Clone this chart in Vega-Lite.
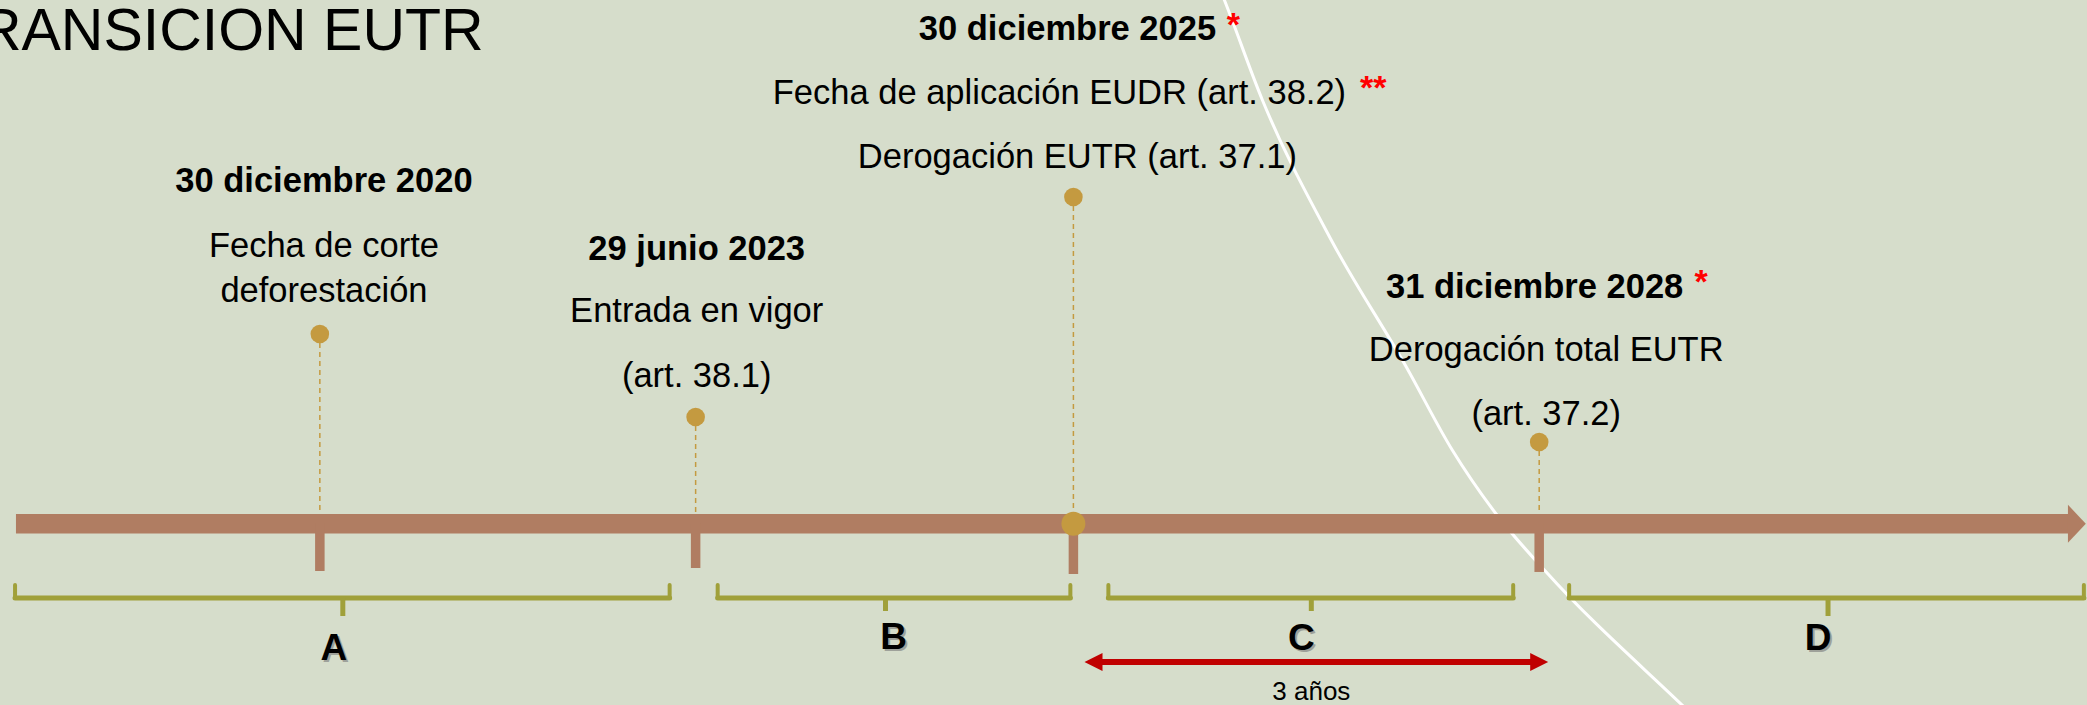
{
  "$schema": "https://vega.github.io/schema/vega-lite/v6.json",
  "width": 2087,
  "height": 705,
  "padding": 0,
  "autosize": {"type": "fit", "contains": "padding"},
  "background": "#D6DDCB",
  "config": {"view": {"stroke": null}},
  "datasets": {
    "curve": [
      {"x": 2026.905, "h": 102.84}, {"x": 2026.958, "h": 100}, {"x": 2027.208, "h": 85.82},
      {"x": 2027.661, "h": 65.96}, {"x": 2028.155, "h": 47.94}, {"x": 2028.457, "h": 36.17},
      {"x": 2028.746, "h": 27.09}, {"x": 2029.075, "h": 18.87}, {"x": 2029.969, "h": 0},
      {"x": 2030.107, "h": -2.84}
    ],
    "bar": [{"x": 2019.009, "x2": 2032.513, "h": 25.71}],
    "arrowhead": [{"x": 2032.566, "h": 25.71}],
    "events": [
      {"x": 2021.008, "h": 52.62, "base": 25.71, "tick": 19.01},
      {"x": 2023.48, "h": 40.85, "base": 25.71, "tick": 19.43},
      {"x": 2025.965, "h": 72.06, "base": 25.71, "tick": 18.58},
      {"x": 2029.029, "h": 37.3, "base": 25.71, "tick": 18.87}
    ],
    "bigdot": [{"x": 2025.965, "h": 25.71}],
    "brackets": [
      {"x": 2019.003, "x2": 2023.309, "mid": 2021.159, "h": 15.18, "top": 17.02, "tip": 12.62},
      {"x": 2023.625, "x2": 2025.945, "mid": 2024.729, "h": 15.18, "top": 17.02, "tip": 13.33},
      {"x": 2026.195, "x2": 2028.858, "mid": 2027.53, "h": 15.18, "top": 17.02, "tip": 13.33},
      {"x": 2029.226, "x2": 2032.612, "mid": 2030.929, "h": 15.18, "top": 17.02, "tip": 12.62}
    ],
    "labels": [
      {"x": 2021.1, "h": 6.38, "text": "A"},
      {"x": 2024.782, "h": 7.94, "text": "B"},
      {"x": 2027.464, "h": 7.8, "text": "C"},
      {"x": 2030.863, "h": 7.8, "text": "D"}
    ],
    "heads": [
      {"x": 2021.035, "h": 72.77, "text": "30 diciembre 2020"},
      {"x": 2023.487, "h": 63.12, "text": "29 junio 2023"},
      {"x": 2025.926, "h": 94.33, "text": "30 diciembre 2025"},
      {"x": 2028.999, "h": 57.73, "text": "31 diciembre 2028"}
    ],
    "bodies": [
      {"x": 2021.035, "h": 63.55, "text": "Fecha de corte"},
      {"x": 2021.035, "h": 57.16, "text": "deforestación"},
      {"x": 2023.487, "h": 54.33, "text": "Entrada en vigor"},
      {"x": 2023.487, "h": 45.11, "text": "(art. 38.1)"},
      {"x": 2025.873, "h": 85.25, "text": "Fecha de aplicación EUDR (art. 38.2)"},
      {"x": 2025.991, "h": 76.17, "text": "Derogación EUTR (art. 37.1)"},
      {"x": 2029.075, "h": 48.79, "text": "Derogación total EUTR"},
      {"x": 2029.075, "h": 39.72, "text": "(art. 37.2)"}
    ],
    "stars": [
      {"x": 2027.017, "h": 94.93, "text": "*"},
      {"x": 2027.938, "h": 85.95, "text": "**"},
      {"x": 2030.094, "h": 58.43, "text": "*"}
    ],
    "span": [{"x": 2026.097, "x2": 2029.029, "h": 6.1}],
    "spanlabel": [{"x": 2027.53, "h": 0.71, "text": "3 años"}],
    "title": [{"x": 2022.086, "h": 92.91, "text": "TRANSICION EUTR"}]
  },
  "encoding": {
    "x": {"field": "x", "type": "quantitative", "scale": {"domain": [2018.904, 2032.626], "nice": false, "zero": false}, "axis": null},
    "y": {"field": "h", "type": "quantitative", "scale": {"domain": [0, 100], "nice": false, "zero": false}, "axis": null}
  },
  "layer": [
    {"data": {"name": "curve"}, "mark": {"type": "line", "color": "#FFFFFF", "strokeWidth": 3, "interpolate": "monotone", "clip": true}},
    {"data": {"name": "events"}, "mark": {"type": "rule", "color": "#C49A40", "strokeWidth": 1.5, "strokeDash": [5, 4]}, "encoding": {"y2": {"field": "base"}}},
    {"data": {"name": "bar"}, "mark": {"type": "rule", "color": "#B07D62", "strokeWidth": 19.5, "strokeCap": "butt"}, "encoding": {"x2": {"field": "x2"}}},
    {"data": {"name": "arrowhead"}, "mark": {"type": "point", "shape": "M -0.47 -1 L 0.47 0 L -0.47 1 Z", "size": 1444, "filled": true, "color": "#B07D62", "opacity": 1}},
    {"data": {"name": "events"}, "mark": {"type": "rule", "color": "#B07D62", "strokeWidth": 9.5, "strokeCap": "butt"}, "encoding": {"y": {"field": "base", "type": "quantitative", "scale": {"domain": [0, 100], "nice": false, "zero": false}, "axis": null}, "y2": {"field": "tick"}}},
    {"data": {"name": "bigdot"}, "mark": {"type": "point", "shape": "circle", "size": 573, "filled": true, "color": "#C49A40", "opacity": 1}},
    {"data": {"name": "events"}, "mark": {"type": "point", "shape": "circle", "size": 346, "filled": true, "color": "#C49A40", "opacity": 1}},
    {"data": {"name": "brackets"}, "mark": {"type": "rule", "color": "#A0A03A", "strokeWidth": 5, "strokeCap": "round"}, "encoding": {"x2": {"field": "x2"}}},
    {"data": {"name": "brackets"}, "mark": {"type": "rule", "color": "#A0A03A", "strokeWidth": 4, "strokeCap": "round"}, "encoding": {"y2": {"field": "top"}}},
    {"data": {"name": "brackets"}, "mark": {"type": "rule", "color": "#A0A03A", "strokeWidth": 4, "strokeCap": "round"}, "encoding": {"x": {"field": "x2", "type": "quantitative", "scale": {"domain": [2018.904, 2032.626], "nice": false, "zero": false}, "axis": null}, "y2": {"field": "top"}}},
    {"data": {"name": "brackets"}, "mark": {"type": "rule", "color": "#A0A03A", "strokeWidth": 5, "strokeCap": "butt"}, "encoding": {"x": {"field": "mid", "type": "quantitative", "scale": {"domain": [2018.904, 2032.626], "nice": false, "zero": false}, "axis": null}, "y2": {"field": "tip"}}},
    {"data": {"name": "labels"}, "mark": {"type": "text", "font": "Liberation Sans", "fontWeight": "bold", "fontSize": 37, "align": "center", "baseline": "alphabetic", "color": "#7A7A7A", "opacity": 0.6, "dx": 2, "dy": 2}, "encoding": {"text": {"field": "text"}}},
    {"data": {"name": "labels"}, "mark": {"type": "text", "font": "Liberation Sans", "fontWeight": "bold", "fontSize": 37, "align": "center", "baseline": "alphabetic", "color": "#000000"}, "encoding": {"text": {"field": "text"}}},
    {"data": {"name": "heads"}, "mark": {"type": "text", "font": "Liberation Sans", "fontWeight": "bold", "fontSize": 34.5, "align": "center", "baseline": "alphabetic", "color": "#000000"}, "encoding": {"text": {"field": "text"}}},
    {"data": {"name": "bodies"}, "mark": {"type": "text", "font": "Liberation Sans", "fontWeight": "normal", "fontSize": 34.5, "align": "center", "baseline": "alphabetic", "color": "#000000"}, "encoding": {"text": {"field": "text"}}},
    {"data": {"name": "stars"}, "mark": {"type": "text", "font": "Liberation Sans", "fontWeight": "bold", "fontSize": 34, "align": "center", "baseline": "alphabetic", "color": "#FF0000"}, "encoding": {"text": {"field": "text"}}},
    {"data": {"name": "span"}, "mark": {"type": "rule", "color": "#C00000", "strokeWidth": 6, "strokeCap": "butt"}, "encoding": {"x2": {"field": "x2"}}},
    {"data": {"name": "span"}, "mark": {"type": "point", "shape": "M -1 0 L 1 -1 L 1 1 Z", "size": 324, "filled": true, "color": "#C00000", "opacity": 1}},
    {"data": {"name": "span"}, "mark": {"type": "point", "shape": "M 1 0 L -1 -1 L -1 1 Z", "size": 324, "filled": true, "color": "#C00000", "opacity": 1}, "encoding": {"x": {"field": "x2", "type": "quantitative", "scale": {"domain": [2018.904, 2032.626], "nice": false, "zero": false}, "axis": null}}},
    {"data": {"name": "spanlabel"}, "mark": {"type": "text", "font": "Liberation Sans", "fontSize": 26, "align": "center", "baseline": "alphabetic", "color": "#000000"}, "encoding": {"text": {"field": "text"}}},
    {"data": {"name": "title"}, "mark": {"type": "text", "font": "Liberation Sans", "fontSize": 59, "align": "right", "baseline": "alphabetic", "color": "#000000", "clip": true}, "encoding": {"text": {"field": "text"}}}
  ]
}
